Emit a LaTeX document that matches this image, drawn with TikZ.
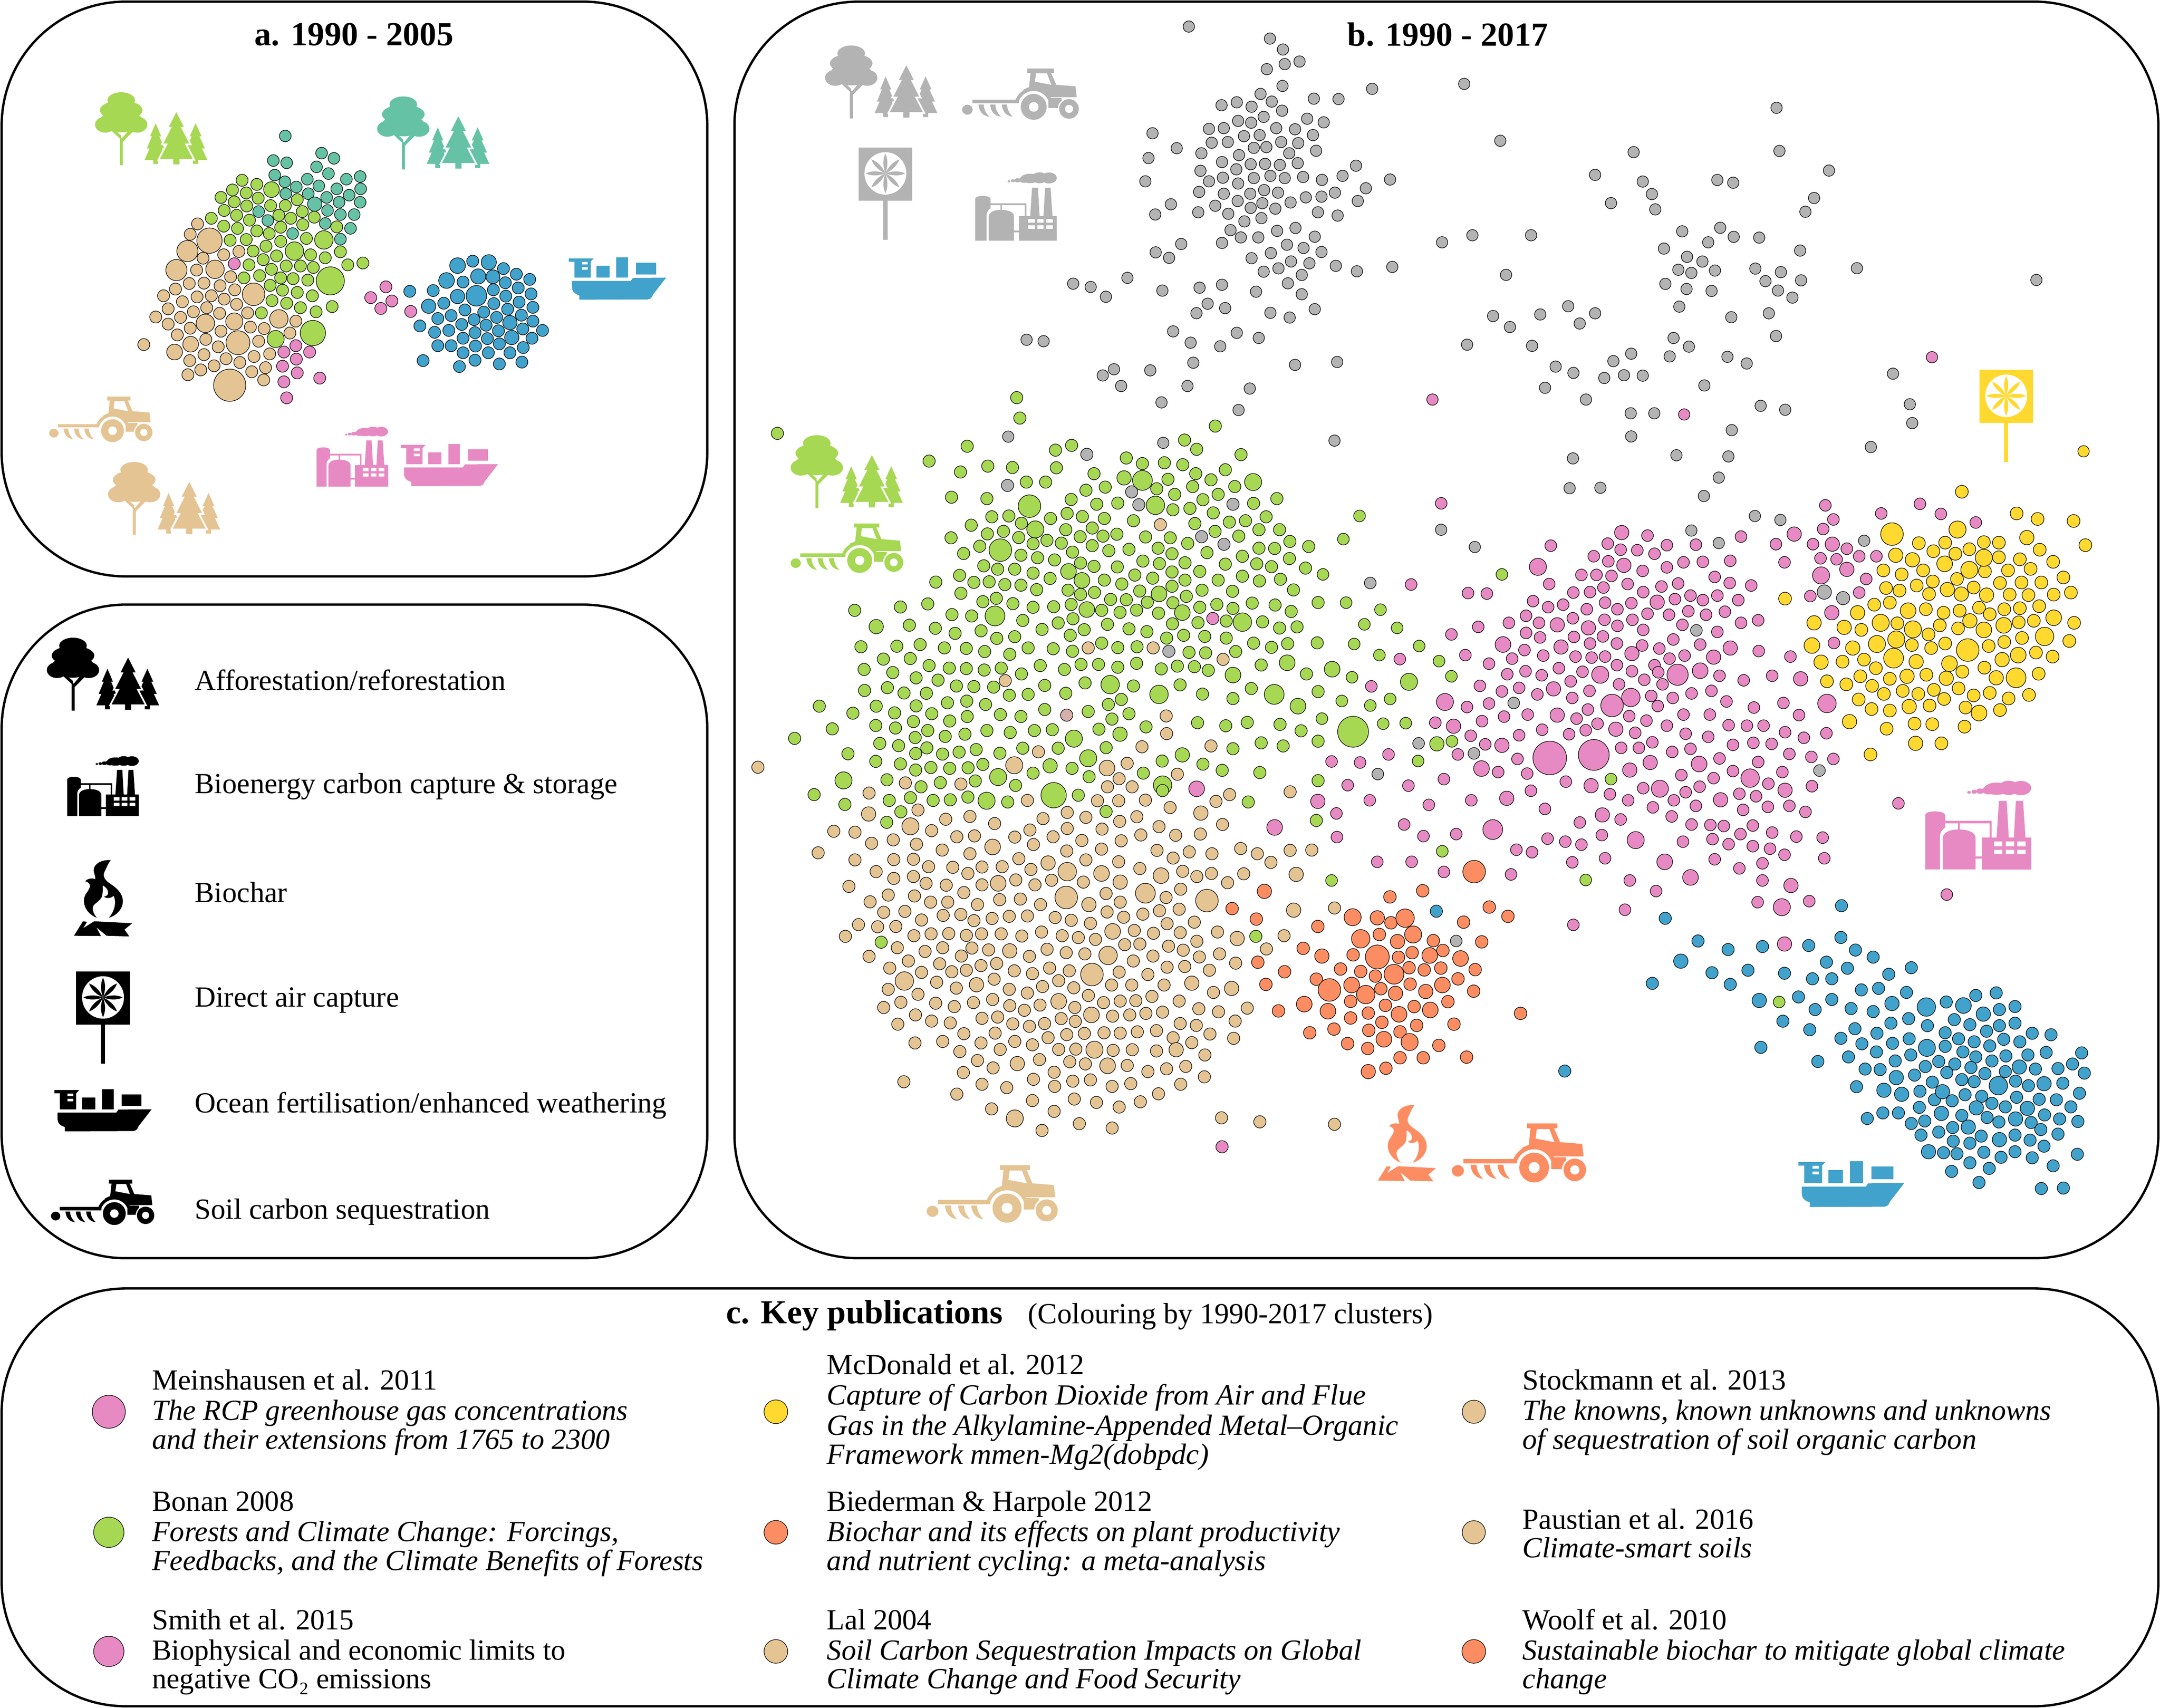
\documentclass[tikz,border=0pt]{standalone}
\usepackage{fontspec}
\setmainfont{Liberation Serif}
\definecolor{cgreen}{HTML}{A6D854}\definecolor{ctan}{HTML}{E5C494}\definecolor{cpink}{HTML}{E78AC3}
\definecolor{cblue}{HTML}{41A2CB}\definecolor{corange}{HTML}{FC8D62}\definecolor{cyellow}{HTML}{FFD92F}
\definecolor{cgrey}{HTML}{B3B3B3}\definecolor{cteal}{HTML}{66C2A5}\definecolor{cmix}{HTML}{D6B0AA}
\tikzset{
 dotst/.style={draw=black,line width=.2pt},
 panelbox/.style={draw=black,line width=.85pt,rounded corners=45,fill=white},
 titletxt/.style={anchor=center,inner sep=0,font=\fontsize{12.2}{14}\selectfont\bfseries},
 legtxt/.style={anchor=base west,inner sep=0,font=\fontsize{10.6}{12}\selectfont},
 pubtxt/.style={anchor=base west,inner sep=0,font=\fontsize{10.6}{12}\selectfont},
 pubit/.style={pubtxt,font=\fontsize{10.6}{12}\selectfont\itshape},
}
\newcommand\setzone[4]{\def\zxo{#1}\def\zsx{#2}\def\zyo{#3}\def\zsy{#4}}
\newcommand\dotrow[3]{\foreach \p/\q in {#3}{\path[dotst,fill=#1] ({\zxo+\p*\zsx},{\zyo+\q*\zsy}) circle ({#2+.25});}}
\newcommand\bigdots[2]{\foreach \p/\q/\r in {#2}{\path[dotst,fill=#1] ({\zxo+\p*\zsx},{\zyo+\q*\zsy}) circle ({\r+.2});}}
\newcommand\pineicon[5]{\path[#5] ({#1},{#2}) -- ({#1+.5*#4},{#2+.32*(#3-#2)}) -- ({#1+.33*#4},{#2+.32*(#3-#2)}) -- ({#1+.8*#4},{#2+.62*(#3-#2)}) -- ({#1+.55*#4},{#2+.62*(#3-#2)}) -- ({#1+#4},{#2+.9*(#3-#2)}) -- ({#1+.22*#4},{#2+.9*(#3-#2)}) -- ({#1+.22*#4},{#3}) -- ({#1-.22*#4},{#3}) -- ({#1-.22*#4},{#2+.9*(#3-#2)}) -- ({#1-#4},{#2+.9*(#3-#2)}) -- ({#1-.55*#4},{#2+.62*(#3-#2)}) -- ({#1-.8*#4},{#2+.62*(#3-#2)}) -- ({#1-.33*#4},{#2+.32*(#3-#2)}) -- ({#1-.5*#4},{#2+.32*(#3-#2)}) -- cycle;}
\newcommand\icontree[4]{\begin{scope}[shift={(#1,#2)},scale=#3]
 \fill[#4] (19,5.8) ellipse [x radius=10,y radius=5.8];
 \fill[#4] (19,13) ellipse [x radius=15.5,y radius=7];
 \fill[#4] (19,21) ellipse [x radius=15.5,y radius=8];
 \fill[#4] (7.5,23.5) ellipse [x radius=7.5,y radius=5.8];
 \fill[#4] (30.5,23.5) ellipse [x radius=7.5,y radius=5.8];
 \fill[#4] (18,32) -- (20.2,34) -- (20.2,53) -- (18,53) -- cycle;
 \fill[#4] (11,27) -- (14,27) -- (19,31.5) -- (18.5,34) -- cycle;
 \fill[#4] (25,27) -- (28,28) -- (20,36) -- (19,34) -- cycle;
 \pineicon{44}{22.5}{52}{8}{fill=#4}
 \pineicon{73}{22.5}{52}{8.5}{fill=#4}
 \pineicon{59}{13}{53}{13}{fill=#4,draw=white,line width=.6pt}
 \end{scope}}
\newcommand\icontractor[4]{\begin{scope}[shift={(#1,#2)},scale=#3]
 \fill[#4] (42,0) -- (59,0) -- (59,2.8) -- (42,2.8) -- cycle;
 \fill[#4] (44,2.5) -- (57,2.5) -- (60.5,10.5) -- (72.8,11.5) -- (73.6,18.5) -- (54,18.5) -- (38,17) -- (39.5,13.5) -- (43,12) -- cycle;
 \fill[white] (47.5,3.2) -- (54.5,3.2) -- (57.3,10.5) -- (46.8,8.5) -- cycle;
 \begin{scope}\clip (30,5) rectangle (62,21.5);
 \fill[#4] (46,24.7) circle (12.5);
 \end{scope}
 \fill[white] (46,24.7) circle (10.2);
 \fill[#4] (46,24.7) circle (8.3);
 \fill[white] (46,24.7) circle (3.1);
 \fill[#4] (55.5,19) -- (64,19) -- (64,25.5) -- (55.5,25.5) -- cycle;
 \fill[white] (68.7,26) circle (7.2);
 \fill[#4] (68.7,26) circle (6.3);
 \fill[white] (68.7,26) circle (2.6);
 \fill[#4] (3.4,26.5) ellipse [x radius=3.4,y radius=3.2];
 \fill[#4] (6.5,20) -- (36.5,20) -- (36.5,22.4) -- (6.5,22.4) -- cycle;
 \foreach \k in {10.5,18,25.5}{\fill[#4] (\k,23.2) -- (\k+3.4,23.2) .. controls (\k+3.4,26) and (\k+4.5,28.5) .. (\k+7,31) .. controls (\k+3,30.5) and (\k+.5,28) .. (\k,23.2) -- cycle;}
 \end{scope}}
\newcommand\iconfactory[4]{\begin{scope}[shift={(#1,#2)},scale=#3]
 \fill[#4] (0,43.6) -- (0,17) .. controls (0,14.5) and (9.5,14.5) .. (9.8,17) -- (9.8,23) .. controls (8.5,24) and (7.5,25) .. (7.3,27) -- (7.3,43.6) -- cycle;
 \fill[#4] (8.6,43.6) -- (8.6,28) .. controls (9,25) and (13,24) .. (16.5,24) .. controls (20,24) and (24.5,25) .. (24.7,28) -- (24.7,43.6) -- cycle;
 \fill[#4] (9.5,19.8) -- (32.6,19.8) -- (32.6,28.5) -- (31.6,28.5) -- (31.6,21) -- (9.5,21) -- cycle;
 \fill[#4] (16,20) -- (17,20) -- (17,25) -- (16,25) -- cycle;
 \fill[#4] (24.5,37.3) -- (28.5,37.3) -- (28.5,38.4) -- (24.5,38.4) -- cycle;
 \fill[#4] (28,28) -- (52,28) -- (52,43.6) -- (28,43.6) -- cycle;
 \fill[#4] (36.2,10) -- (40,10) -- (41,28) -- (35,28) -- cycle;
 \fill[#4] (44.5,10) -- (48,10) -- (49.2,28) -- (43.5,28) -- cycle;
 \foreach \a/\b/\c/\d in {35/4/6/3,41/3.6/5/3.5,47/3.7/5/3.5,31/4.8/3/2,27/5.2/2/1.3,24/5.5/1.3/1,21.5/5.8/.9/.7}{\fill[#4] (\a,\b) ellipse [x radius=\c,y radius=\d];}
 \foreach \a in {33.7,39.5,45.2}{\foreach \b in {30,33.9}{\fill[white] (\a,\b) -- (\a+4.1,\b) -- (\a+4.1,\b+2.3) -- (\a,\b+2.3) -- cycle;}}
 \end{scope}}
\newcommand\iconship[4]{\begin{scope}[shift={(#1,#2)},scale=#3]
 \fill[#4] (0,.6) -- (18,.6) -- (15.8,3) -- (15.8,14.6) -- (4,14.6) -- (4,3) -- (0,3) -- cycle;
 \fill[white] (9.5,3.2) -- (13.7,3.2) -- (13.7,5) -- (9.5,5) -- cycle (9.5,7) -- (13.7,7) -- (13.7,8.8) -- (9.5,8.8) -- cycle;
 \fill[#4] (20,6) -- (29.6,6) -- (29.6,14.6) -- (20,14.6) -- cycle;
 \fill[#4] (34.5,0) -- (43,0) -- (43,14.6) -- (34.5,14.6) -- cycle;
 \fill[#4] (48.8,3.7) -- (63.3,3.7) -- (63.3,12.2) -- (48.8,12.2) -- cycle;
 \fill[#4] (2.3,17) -- (45,17) -- (46.5,14.8) -- (70.6,14.6) -- (61,27) .. controls (60,29.5) and (59.5,30) .. (57,30.4) -- (7.6,30.6) -- (7.6,27.5) .. controls (3.5,26) and (2.3,24.5) .. (2.3,21) -- cycle;
 \end{scope}}
\newcommand\iconflame[4]{\begin{scope}[shift={(#1,#2)},scale=#3]
 \fill[#4] (27,.6) .. controls (20,0) and (13,4) .. (15,10) .. controls (15.5,12) and (16,14) .. (15.8,14.3) .. controls (13,13.5) and (10,14) .. (8.5,16) .. controls (11,16.5) and (12.5,18) .. (11.7,20.5) .. controls (10.5,24) and (7,26) .. (7.6,31) .. controls (8,37) and (13,41) .. (17,42.5) -- (25.5,42.5) .. controls (31,41) and (36,36) .. (35.8,30) .. controls (35.5,24) and (30,20) .. (27,18) .. controls (24,16) and (20,13) .. (23,8) .. controls (24,6) and (25,3) .. (27,.6) -- cycle;
 \fill[white] (17,42.5) .. controls (14,39) and (13,35) .. (15,33) .. controls (17,31) and (21,29) .. (21,25) .. controls (21.5,22) and (21,20) .. (21.3,19) .. controls (23,20) and (25.5,22) .. (25,25) .. controls (24.5,26.5) and (23,27) .. (22,27) .. controls (24,29) and (28,28) .. (29,26.5) .. controls (31,30) and (30.5,37) .. (25.5,42.5) -- cycle;
 \fill[#4] (.3,55.5) -- (6.8,45) -- (9.8,45.4) -- (7,50) -- (15,45) -- (42.6,46.4) -- (37,51) -- (40.5,56) -- (24,55.5) -- (16.6,49.4) -- (19.9,55.7) -- cycle;
 \end{scope}}
\newcommand\iconfan[4]{\begin{scope}[shift={(#1,#2)},scale=#3]
 \fill[#4] (0,0) -- (39,0) -- (39,38.7) -- (0,38.7) -- cycle;
 \fill[#4] (18,38) -- (21,38) -- (21,67) -- (18,67) -- cycle;
 \fill[white] (19.5,18.9) ellipse [x radius=15.2,y radius=15.4];
 \foreach \a in {0,45,90,135,180,225,270,315}{\fill[#4,rotate around={\a:(19.5,18.9)}] (5.2,18.9) .. controls (10,16.6) and (15,17.3) .. (19.5,18.9) .. controls (15,20.5) and (10,21.2) .. (5.2,18.9) -- cycle;}
 \end{scope}}
\begin{document}
\begin{tikzpicture}[x=.5pt,y=-.5pt]
\useasboundingbox (0,0) rectangle (1568.2,1239.8);
\fill[white] (0,0) rectangle (1568.2,1239.8);
\path[panelbox] (1.2,1.2) rectangle (513.5,418.5);
\path[panelbox] (1.2,439) rectangle (513.5,913.5);
\path[panelbox] (533.2,1.2) rectangle (1567,913.5);
\path[panelbox] (1.2,935.5) rectangle (1567,1238.8);
\node[titletxt] (ta) at (257,25) {a. 1990 - 2005};
\node[titletxt] (tb) at (1051,25) {b. 1990 - 2017};
% panel a icons
\icontree{69}{67}{1}{cgreen}
\icontree{273.8}{70}{1}{cteal}
\iconship{413}{187}{1}{cblue}
\icontractor{35.7}{288}{1}{ctan}
\icontree{78.4}{335.4}{1}{ctan}
\iconfactory{229.8}{309.7}{1}{cpink}
\iconship{291}{322.4}{1}{cpink}
% panel a dots
\setzone{0}{.33353}{0}{.27048}
\dotrow{cteal}{4}{621/365,700/411,727/425,595/431,624/437,689/448,715/466,598/470,620/488,669/481,754/481,784/474,645/502,694/499,733/507,785/507,622/520,671/520,711/530,760/524,738/543,784/543,563/568,713/565,741/576,771/576,583/592,708/600,763/613,637/627,741/642}
\bigdots{cteal}{685/548/5}
\dotrow{cgreen}{4.1}{527/484,559/495,506/510,536/518,481/530,562/532,510/542,537/553,589/552,621/552,647/536,488/565,515/578,658/568,607/578,633/586,684/583,460/586,543/591,487/607,517/613,611/610,659/603,733/609,559/620,586/627,501/645,536/643,611/648,667/640,741/676,579/661,551/674,676/684,708/692,573/697,602/687,542/711,757/711,790/706,591/723,623/714,654/714,682/718,531/746,565/740,611/746,638/748,670/752,588/766,615/779,647/785,680/794,592/807,624/814,654/826,723/823,688/837,569/840}
\bigdots{cgreen}{591/509/5.5,705/644/6.5,641/674/6.5,719/754/10,600/910/6,681/894/9}
\dotrow{ctan}{4.1}{430/601,414/629,442/693,487/684,520/675,428/725,502/743,412/761,444/760,382/776,479/767,511/778,356/794,429/797,460/794,397/810,488/803,515/817,366/829,450/826,421/837,478/841,539/840,339/851,393/852,644/862,366/870,414/881,545/878,575/882,481/889,631/894,386/899,448/911,563/916,313/925,475/931,444/952,587/950,553/957,492/963,413/968,522/973,466/982,578/987,437/993,548/998,409/1006,574/1020}
\bigdots{ctan}{456/646/9,408/674/7.5,384/725/7.5,468/723/6.5,552/790/8,607/856/6.5,447/868/6.5,510/863/6,518/920/8.5,415/924/5.5,380/945/5.5,500/1034/11.5}
\dotrow{cpink}{4.1}{510/708,644/928,618/945,674/945,645/964,615/983,647/1001,618/1025,696/1015,624/1068,840/770,807/799,853/808,829/828,894/836}
\dotrow{cblue}{4.1}{892/782,943/780,1029/701,1096/721,1124/736,1008/757,1153/750,1100/759,1128/773,1074/778,1156/789,1101/795,966/814,1075/815,1130/811,1160/825,1012/832,1105/830,953/855,982/847,1053/838,1135/846,1081/852,1032/858,1160/862,914/875,1005/871,1058/873,946/892,977/887,1138/883,1034/893,1085/888,1181/887,1008/908,1061/909,1158/908,953/928,982/928,1035/929,1087/923,1139/933,1008/947,1063/947,1110/947,921/968,1034/967,1136/972,1000/984,1087/977}
\bigdots{cblue}{996/713/5.5,1064/704/5.3,972/753/5.5,1041/742/5.3,1073/743/4.8,996/796/5,1037/794/7.3,933/822/5,1110/866/5,1114/906/5}
% panel b icons
\icontree{599}{33}{1}{cgrey}
\icontractor{698.5}{49.7}{1.13}{cgrey}
\iconfan{623.3}{107}{1}{cgrey}
\iconfactory{708}{125}{1.14}{cgrey}
\icontree{574}{316}{1}{cgreen}
\icontractor{574}{380}{1.09}{cgreen}
\iconfan{1437}{268.5}{1}{cyellow}
\iconfactory{1397.7}{566.7}{1.48}{cpink}
\iconship{1305.6}{843}{1.09}{cblue}
\icontractor{1054}{815.6}{1.3}{corange}
\iconflame{1000}{801.7}{1}{corange}
\icontractor{672.7}{845.8}{1.27}{ctan}
% grey dots
\setzone{532.5}{.3254}{0}{.2644}
\dotrow{cgrey}{3.9}{1016/73,1197/106,1226/136,1263/169,1230/176,1190/190,1225/236,1425/244,1176/258,1295/271,1350/272,1123/281,1201/279,1089/289,1156/293,1224/304,1183/321,1280/326,1126/332,1155/337,1317/336,1061/354,1094/352,1211/352,1253/355,935/366,1139/374,1174/371,1293/371,1067/392,1103/390,1222/390,1260/393,989/407,1161/406,1189/404,1300/414,1044/421,1240/421,1128/426,926/434,1090/445,1154/451,1186/450,1219/453,1259/448,1389/455,1042/469,1122/465,1359/483,1092/488,1161/489,1198/483,1230/489,1271/486,1465/493,1313/494,919/498,1061/498,1126/504,1411/517,1039/527,1184/522,1215/529,1094/532,1153/532,1342/529,1312/540,1277/542,1243/556,976/561,1125/552,1393/552,1180/558,1075/565,1154/571,1209/573,941/589,1037/583,1104/587,1304/583,1348/592,1178/599,1140/608,1213/634,1254/626,1109/632,1132/652,1171/652,1297/650,999/670,1090/667,1235/672,1272/681,942/693,1199/695,1312/692,972/708,1156/709,1244/718,1285/723,1216/737,1344/730,1470/733,1183/746,1391/745,1268/755,879/763,758/779,797/788,831/815,1040/790,1090/782,1237/778,957/798,1166/801,1268/808,1058/834,1097/846,1033/860,1198/859,1241/872,1297/849,981/910,1123/914,1172/928,1020/941,1086/951,654/933,692/937,1026/996,1253/1002,1347/994,849/1014,824/1031,930/1017,865/1060,1013/1060,1152/1067,955/1105,1127/1126,613/1199,1341/1210,959/1216,789/1247,611/1333,889/1352,904/1387,1114/1385}
\dotrow{cgreen}{4.2}{98/1190,632/1092,639/1148,1075/1170}
\setzone{1020.4}{.3494}{0}{.2847}
\dotrow{cgrey}{3.9}{122/214,771/275,197/359,777/385,474/388,880/435,394/446,648/459,681/466,493/463,512/495,849/505,427/518,519/534,831/540,575/590,654/581,682/604,735/606,76/618,139/600,261/600,629/618,537/634,820/639,585/655,617/667,567/688,594/696,643/690,727/685,780/694,938/684,1311/714,822/715,748/717,209/701,540/724,584/737,636/742,774/741,804/759,569/782,338/781,394/799,182/806,280/802,755/799,677/809,362/825,217/834,770/857,557/862,128/879,263/882,589/884,469/902,549/909,669/910,709/927,432/921,312/935,349/951,413/964,454/957,493/958,621/983,1013/953,290/989,1048/1031,1053/1079,375/1019,468/1054,517/1054,738/1035,789/1045,678/1097,469/1113,967/1140,348/1169,563/1161,671/1164,651/1218,341/1245,405/1244,620/1265,74/1351,144/1395,726/1316,779/1326,594/1353,651/1385,953/1379}
\dotrow{cpink}{3.9}{56/1019,579/1057,1094/911}
\dotrow{cyellow}{3.9}{1409/1151}
% green / part of tan
\setzone{542.1}{.32538}{318.9}{.20337}
\dotrow{cgreen}{4.2}{492/25,689/39,725/22,977/3,1004/36,1103/55,407/78,847/67,883/87,932/84,973/91,538/96,593/101,691/102,477/117,775/123,1068/109,1002/123,940/143,1036/145,624/153,667/153,757/182,800/171,915/177,995/169,1089/169,955/197,1052/197,457/207,536/212,724/215,781/232,828/228,1018/216,1131/229,1183/212,951/252,989/247,1041/263,715/265,678/283,749/276,798/283,547/277,585/274,863/291,1159/277,1077/296,1113/291,1000/301,613/300,501/307,1143/323,1189/323,712/323,771/317,1045/329,573/329,537/338,826/339,795/346,744/348,890/349,945/352,456/352,607/351,1098/346,670/361,639/373,702/371,984/372,1212/365,771/380,520/382,918/389,853/393,808/398,1143/389,1178/390,1254/383,484/408,727/403,612/414,949/409,1027/405,1106/418,649/423,687/431,884/435,1211/426,745/442,921/444,978/441,1138/445,1068/446,529/452,775/454,827/456,1171/455,1247/460,560/464,598/464,639/478,949/474,1011/472,475/486,866/485,677/497,798/503,906/496,1106/489,1191/500,978/503,1052/503,1144/506,507/511,541/509,422/510,576/519,612/521,837/517,949/525,717/539,647/537,1016/539,1220/538,776/547,745/554,877/542,1084/543,478/550,981/561,527/580,557/568,812/572,847/573,1128/585,1275/583,594/587,724/590,894/582,951/584,1011/600,1049/590,1179/592,404/588,343/599,241/611,639/600,685/598,1085/604,1215/615,458/626,502/631,792/611,833/618,870/610,919/621,728/641,616/647,1070/649,1151/652,695/656,363/664,950/659,1007/655,1189/674,1228/670,421/675,659/679,805/661,753/680,853/677,465/693,523/684,893/687,722/700,975/700,1022/704,598/705,558/711,937/710,1070/710,792/728,628/745,255/741,335/739,387/733,441/745,490/747,531/758,684/748,727/757,828/744,871/741,1131/728,1171/743,1207/730,1273/727,587/768,987/761,1024/763,1091/758,305/785,365/783,407/808,452/817,490/819,530/824,568/817,655/808,746/804,785/804,828/814,870/800,1148/806,961/810,999/812,925/820,1030/825,709/822,262/822,326/833,1249/838,613/838,378/852,427/860,755/870,863/881,468/881,507/883,551/885,665/879,967/877,263/897,314/887,351/906,401/907,586/914,628/911,712/907,1017/910,1126/890,1275/901,1085/926,162/953,289/953,378/952,448/941,491/935,533/947,836/929,807/947,237/978,330/977,413/980,566/983,612/990,665/965,762/972,492/990,453/1006,372/1008,853/980,815/999,288/1022,191/1034,332/1031,1006/1012,891/1027,1069/1023,1117/1011,1190/1018,536/1040,642/1040,682/1037,404/1040,443/1061,487/1053,588/1047,786/1035,1237/1041,376/1065,107/1068,297/1086,339/1094,1148/1084,1197/1095,1275/1078,402/1102,802/1101,695/1103,616/1103,512/1108,474/1117,437/1124,377/1122,226/1123,565/1121,1085/1105,927/1149,288/1150,343/1159,527/1161,411/1172,453/1175,494/1173,726/1175,377/1181,1018/1160,1061/1182,885/1192,639/1192,764/1205,1145/1190,313/1216,510/1220,432/1226,600/1236,1275/1219,389/1241}
\bigdots{cgreen}{842/138/5,883/147/7,1130/153/6,631/239/8,912/236/6.5,644/322/6,566/396/8,718/472/5.5,748/504/5.5,920/552/5.5,759/608/5.5,554/631/7,972/619/5.5,1106/653/6.5,289/669/5,1206/798/5.5,1085/842/5.5,811/876/6.5,920/911/6.5,1177/911/7,1230/953/5.5,833/1053/5,730/1069/6,972/1127/5,762/1139/6,677/1166/5,561/1206/6,216/1218/6,928/1235/6.5}
\dotrow{ctan}{4.2}{923/305,762/745,907/745,1063/786,577/862,936/988,937/1051,882/1098,1036/1095,651/1116,25/1171,849/1157,961/1196,831/1212,860/1241,354/1227,478/1231,805/1241}
\bigdots{ctan}{804/1174/5.5,597/1164/6}
\dotrow{cmix}{4.2}{714/985}
\dotrow{cpink}{4.2}{1040/640}
\bigdots{cpink}{1004/1248/5.5,1178/1386/5.5}
\dotrow{cgrey}{4.2}{759/54,582/165,859/188,875/234,1085/232,1015/348,1065/375,942/757}
% tan + orange
\setzone{542}{.36607}{574}{.22372}
\dotrow{ctan}{4.2}{1078/4,243/8,557/32,696/33,738/33,791/31,931/35,958/13,340/63,443/84,636/71,673/87,840/55,588/91,395/93,492/107,774/85,740/100,944/110,173/132,215/135,367/130,562/128,636/123,705/125,818/117,417/150,452/147,532/151,608/150,851/145,900/141,291/160,782/144,665/162,743/163,248/171,337/174,569/175,704/190,388/193,142/202,443/205,635/196,814/194,878/199,923/205,980/188,1013/205,1078/194,1121/193,540/221,846/219,215/225,292/224,331/223,673/225,738/231,1040/233,361/247,409/249,467/248,507/247,780/253,257/263,439/269,564/256,865/262,922/269,986/270,292/285,331/279,893/279,534/290,605/291,668/297,356/301,396/307,467/306,572/306,954/299,203/311,861/320,431/331,713/334,281/339,333/342,832/347,245/361,365/362,399/362,502/354,543/352,741/362,458/370,583/370,272/395,314/392,390/405,425/402,521/408,557/407,715/394,786/401,819/390,858/385,1166/381,347/420,451/422,487/415,612/412,644/421,748/411,682/431,834/432,888/427,222/435,260/442,296/441,769/454,585/459,807/463,860/461,934/459,332/471,366/465,401/464,436/470,466/465,505/465,546/472,626/471,658/477,692/483,196/473,1066/471,893/489,750/500,780/498,837/505,299/510,354/522,389/510,447/511,480/517,596/515,634/526,671/530,866/518,938/530,1031/514,243/538,561/538,426/537,806/537,898/540,321/553,383/562,767/553,465/568,496/561,601/576,970/560,284/576,436/583,407/588,531/585,567/594,640/585,739/589,834/573,869/571,918/583,347/590,796/597,377/622,491/612,619/617,724/631,764/631,828/631,416/641,521/645,587/636,281/645,557/657,649/640,926/655,340/661,678/665,804/668,488/678,858/683,450/688,741/683,772/682,708/688,375/690,306/687,522/698,582/696,272/704,412/701,651/704,993/706,897/708,936/718,551/713,825/719,792/723,467/739,498/735,726/732,760/728,624/740,652/749,335/728,969/748,367/748,404/754,528/757,591/756,561/765,300/758,860/756,892/762,493/787,635/792,670/788,709/786,741/787,775/783,813/779,431/789,919/790,598/802,846/802,966/804,334/819,389/814,465/819,532/814,567/825,883/818,423/847,503/840,619/840,653/839,727/843,765/841,813/845,909/858,458/876,581/873,641/880,672/887,755/892,489/900,796/912,833/903,871/895,430/915,610/914,569/937,647/943,682/939,908/929,467/953,516/964,611/960,725/960,762/951,861/953,312/945,417/985,817/984,567/1006,650/1001,694/1012,781/1010,739/1027,486/1033,610/1041,660/1081,586/1103,725/1095,942/1062,1018/1075,1166/1083}
\bigdots{ctan}{242/76/5,901/73/5,325/116/6,488/183/5.5,598/235/5,636/263/6.5,704/269/5.5,822/276/5.5,1090/272/5,741/297/5,499/301/5.5,634/347/8,791/333/7,913/357/8,679/370/5,1085/388/5,726/457/5.5,973/480/5,522/520/5,717/535/6.5,685/597/8,313/618/6.5,883/625/5,456/630/5,962/642/5,619/684/5.5,684/728/5.5,690/841/6,852/841/5,537/886/5,716/893/5.5,532/1064/6}
\dotrow{cgreen}{4.2}{134/13,195/45,283/32,325/23,370/32,404/30,439/21,518/37,658/15,825/0,306/69,713/68,278/103,995/37,1130/97,1010/473,267/492}
\bigdots{cgreen}{476/33/6,609/15/9}
\dotrow{cpink}{4.2}{943/1156}
\bigdots{cpink}{1133/35/5}
\dotrow{corange}{4.3}{1341/325,1276/345,963/383,1011/417,1133/441,1473/378,1510/408,1278/429,1422/427,1255/467,1362/487,1458/491,1104/512,1203/533,1293/541,1320/526,1381/519,1014/557,1178/579,1218/587,1247/602,1314/575,1344/582,1377/576,1445/581,1067/588,1130/612,1411/611,1030/629,1316/628,1258/643,1442/651,1198/684,1391/685,1055/715,1267/697,1324/701,1535/723,1233/722,1198/738,1260/752,1329/762,1403/758,1117/786,1165/774,1234/778,1296/783,1192/821,1373/827,1232/837,1296/867,1342/867,1428/865,1268/901}
\bigdots{corange}{1027/327/5,1202/411/6,1251/413/5,1306/414/6.5,1322/467/6,1218/481/6.5,1291/490/5,1141/537/5,1251/540/8.5,1355/535/5.5,1416/545/5.5,1284/596/7,1200/631/5.5,1380/631/5.5,1156/647/8,1228/662/6.5,1287/658/5,1347/652/5,1106/693/5.5,1356/712/5.5,1153/716/5.5,1294/726/5.5,1264/807/5.5,1315/816/6,1233/912/5,1443/263/8}
% right side
\setzone{956.6}{.39007}{350.8}{.36607}
\dotrow{cgreen}{4}{78/65,48/111,10/181,343/181,53/237,117/251,87/280,148/287,68/319,189/323,115/341,226/353,64/385,249/383,45/432,98/441,135/428,8/467,122/477,164/476,250/512,187/551,232/730,26/788,546/587,499/787,859/1029}
\bigdots{cgreen}{27/369/5.5,170/394/6,66/493/11,222/517/5}
\dotrow{cgrey}{4}{98/198,188/516,291/536,112/577,365/436,705/292,258/908,934/570}
\bigdots{cgrey}{943/216/5,978/228/4.6}
\dotrow{cpink}{4}{230/40,945/44,1121/41,1160/61,1049/60,1225/78,960/72,941/91,614/104,788/106,434/124,540/120,704/122,650/123,853/121,922/121,985/130,564/132,595/133,627/140,514/145,541/155,681/157,717/156,768/154,936/149,966/151,1008/145,1040/145,869/157,650/167,605/174,491/182,519/182,547/184,577/200,739/186,671/199,767/198,640/205,807/203,431/200,174/201,1021/190,476/217,507/216,280/218,315/219,532/207,606/216,694/223,665/230,717/232,744/223,1008/217,917/224,401/234,429/246,457/241,501/250,535/237,584/238,783/232,690/254,758/255,388/263,558/250,614/259,654/261,723/261,475/268,356/277,412/277,534/271,586/271,679/281,788/277,820/272,299/285,558/283,606/291,388/297,249/300,744/295,477/305,531/304,662/310,557/318,414/306,507/318,604/322,712/320,821/333,961/317,385/331,636/328,420/342,480/344,510/346,535/344,655/348,683/342,880/344,275/341,153/349,362/348,319/358,557/361,449/367,627/361,387/373,417/381,493/374,353/379,585/373,634/375,748/382,846/382,793/391,302/402,375/406,100/403,343/413,409/419,471/393,561/399,608/390,642/399,506/412,696/417,733/412,474/426,661/426,621/422,761/433,812/445,867/436,319/437,278/444,633/442,503/449,896/460,391/459,347/463,580/462,681/459,730/459,219/475,306/472,482/467,612/471,521/477,650/481,765/480,799/481,830/481,870/494,947/496,375/500,418/489,499/490,468/498,591/495,685/497,285/501,727/503,905/505,312/518,623/514,811/515,845/517,565/525,598/525,694/527,773/519,660/533,878/537,26/552,79/554,132/538,261/538,372/547,748/546,919/543,960/547,820/553,336/573,390/576,773/571,865/573,677/579,737/585,235/587,462/592,56/599,169/600,397/610,606/605,711/602,839/596,920/601,544/617,685/613,785/616,816/621,97/629,207/638,286/629,578/629,663/629,624/643,704/640,838/642,878/640,423/646,792/648,908/652,35/655,659/661,564/667,488/673,161/677,696/677,731/678,756/680,810/679,36/702,197/700,258/696,846/693,428/705,461/711,491/717,529/698,680/711,735/706,787/696,891/701,940/703,765/716,810/720,842/725,370/727,399/732,739/746,869/737,943/744,111/751,175/751,474/752,535/744,828/754,785/764,235/771,360/776,581/788,828/788,630/809,819/831,915/829,572/846,476/876,1081/635,1171/816}
\bigdots{cpink}{887/101/5,566/98/5,958/121/5,410/166/6,570/163/5,985/171/5,937/183/6,632/236/5,957/257/5,446/281/5,504/287/5,345/320/5.5,453/325/5,768/327/5,585/338/5,737/345/5,526/380/6,670/380/7.5,712/372/5.5,899/388/5,439/408/5,583/425/6.5,948/437/6.5,237/434/6,548/441/8,446/460/5,253/482/5,555/488/5,343/520/5,432/545/12,514/539/11,619/554/5,710/557/5.5,305/566/5.5,581/569/5,805/585/6.5,509/600/5,637/606/6,870/609/5,352/625/5,750/628/5,530/658/5,326/687/7,592/708/6,646/751/5.5,694/782/5.5,881/798/5,864/841/6,869/914/5}
\dotrow{cyellow}{4.4}{1199/17,1301/60,1340/71,1407/75,1429/123,1119/119,1168/118,1240/117,1268/118,1146/135,1213/131,1344/132,1187/140,1268/147,1307/151,1369/156,1053/173,1127/173,1242/175,1285/173,1327/170,1087/181,1145/195,1190/190,1270/198,1310/197,1347/197,1388/187,1058/208,1083/213,1115/203,1221/207,1138/220,1288/221,1323/222,1370/221,1402/217,870/229,1036/241,1065/237,1132/250,1165/257,1195/253,1231/247,1278/250,1307/248,1343/244,1251/260,1079/278,1305/276,1333/273,1408/277,1012/291,1158/282,1192/288,1137/300,1311/307,1399/313,1106/321,1142/327,1168/318,1249/323,1278/315,1337/336,1017/350,1368/344,977/354,1039/367,1241/366,1200/374,1010/383,1065/388,1133/380,1342/378,948/393,984/399,1032/402,1089/412,1118/418,1147/410,1193/407,1221/421,1251/416,1007/429,1054/418,1166/428,1286/427,1324/420,1031/448,1065/451,1139/441,1206/445,1270/450,1111/477,1144/478,1059/487,1204/483,1161/516,1029/538}
\bigdots{cyellow}{1069/101/8,1191/92/6,1320/108/5,1076/143/5,1107/152/5,1240/148/6,1167/160/5.5,1213/172/6,1172/211/5,1198/220/5,1245/222/5,1099/253/5.5,1005/257/5,1370/267/5.5,924/277/5,1048/277/6,1214/273/5,980/286/5,1108/290/6,1240/291/5.5,1277/282/5.5,1077/310/6,1353/304/6.5,920/322/5.5,996/327/5,1041/319/6,1210/331/8,1304/341/5.5,1072/347/7,1114/354/5,937/355/5,1176/358/5.5,1274/350/5,1097/383/5,1170/387/5,1263/386/5,1300/386/7,1101/443/5,1231/456/5.5,990/473/5,1113/516/5}
\dotrow{cblue}{4.2}{975/838,647/863,221/849,460/1166,708/908,974/901,764/925,828/919,914/917,1001/926,1034/940,947/950,986/962,1105/961,734/971,801/966,869/972,1063/974,921/983,957/983,623/992,768/994,1012/1005,1044/1002,1096/1010,1263/1011,1225/1016,895/1019,957/1024,1170/1029,1298/1038,1269/1044,926/1044,993/1042,1034/1048,866/1067,1100/1062,1185/1064,1067/1071,1135/1076,1214/1074,1269/1076,1298/1071,916/1084,1000/1082,1041/1091,1168/1090,1245/1087,1330/1091,1365/1094,974/1101,1101/1102,1193/1102,1277/1103,1013/1112,1070/1111,1222/1108,1307/1108,1251/1116,825/1119,1168/1117,1040/1128,1201/1128,1356/1129,1422/1130,988/1138,1104/1134,1225/1138,1281/1136,1322/1134,1075/1146,1156/1147,1255/1146,931/1147,1131/1157,1186/1152,1405/1152,1019/1162,1047/1163,1216/1159,1336/1162,1378/1161,1427/1170,1171/1169,1111/1174,1242/1171,1280/1167,1144/1188,1199/1183,1222/1187,1299/1186,1003/1197,1323/1195,1387/1190,1121/1206,1205/1213,1236/1216,1301/1218,1418/1210,1148/1223,1181/1225,1255/1230,1343/1222,1375/1223,1120/1238,1280/1237,1402/1237,1052/1249,1081/1249,1199/1254,1353/1253,1023/1260,1246/1258,1105/1270,1130/1265,1268/1267,1328/1268,1381/1261,1415/1266,1182/1278,1346/1282,1156/1287,1123/1293,1235/1295,1298/1293,1378/1291,1183/1305,1326/1303,1214/1309,1352/1315,1165/1328,1190/1330,1240/1327,1298/1326,1414/1331,1272/1337,1330/1338,1214/1348,1369/1354,1250/1359,1180/1365,1231/1387,1347/1399,1388/1398}
\bigdots{cblue}{676/948/5,822/1026/5,1069/1032/5,1202/1036/5.5,1133/1039/6.5,1239/1053/5,1134/1120/6,1306/1158/5,1077/1179/5,1267/1195/6.5,1352/1191/5,1054/1204/5,1163/1207/5,1087/1212/5,1226/1239/5,1321/1240/5,1161/1250/5,1299/1261/5,1211/1277/5,1269/1302/5,1137/1326/5}
% legend
\icontree{34}{463}{1}{black}
\iconfactory{48.8}{548.9}{1}{black}
\iconflame{53.4}{623.9}{1}{black}
\iconfan{55.3}{705.3}{1}{black}
\iconship{39.5}{790.8}{1}{black}
\icontractor{37}{856.4}{1}{black}
\node[legtxt] (l1) at (141,501) {Afforestation/reforestation};
\node[legtxt] (l2) at (141,576) {Bioenergy carbon capture \& storage};
\node[legtxt] (l3) at (141,655) {Biochar};
\node[legtxt] (l4) at (141,731) {Direct air capture};
\node[legtxt] (l5) at (141,808) {Ocean fertilisation/enhanced weathering};
\node[legtxt] (l6) at (141,885) {Soil carbon sequestration};
% panel c
\node[anchor=base west,inner sep=0,font=\fontsize{12.2}{14}\selectfont\bfseries] (tc) at (527,961) {c. Key publications};
\node[pubtxt] (tc2) at (746,961) {(Colouring by 1990-2017 clusters)};
\path[dotst,fill=cpink] (79,1025) circle (12);
\path[dotst,fill=cgreen] (79,1112.5) circle (11);
\path[dotst,fill=cpink] (79,1199) circle (11);
\path[dotst,fill=cyellow] (563.3,1025) circle (8.6);
\path[dotst,fill=corange] (563.3,1112.5) circle (8.6);
\path[dotst,fill=ctan] (563.3,1199) circle (8.6);
\path[dotst,fill=ctan] (1070,1025) circle (8.4);
\path[dotst,fill=ctan] (1070,1112.5) circle (8.4);
\path[dotst,fill=corange] (1070,1199) circle (8.6);
\node[pubtxt] (p1) at (110,1009) {Meinshausen et al. 2011};
\node[pubit] (p2) at (110,1031) {The RCP greenhouse gas concentrations};
\node[pubit] (p3) at (110,1052) {and their extensions from 1765 to 2300};
\node[pubtxt] (p4) at (110,1097) {Bonan 2008};
\node[pubit] (p5) at (110,1119) {Forests and Climate Change: Forcings,};
\node[pubit] (p6) at (110,1140) {Feedbacks, and the Climate Benefits of Forests};
\node[pubtxt] (p7) at (110,1183) {Smith et al. 2015};
\node[pubtxt] (p8) at (110,1205) {Biophysical and economic limits to};
\node[pubtxt] (p9) at (110,1226) {negative CO₂ emissions};
\node[pubtxt] (q1) at (600,998) {McDonald et al. 2012};
\node[pubit] (q2) at (600,1020) {Capture of Carbon Dioxide from Air and Flue};
\node[pubit] (q3) at (600,1042) {Gas in the Alkylamine-Appended Metal–Organic};
\node[pubit] (q4) at (600,1063) {Framework mmen-Mg2(dobpdc)};
\node[pubtxt] (q5) at (600,1097) {Biederman \& Harpole 2012};
\node[pubit] (q6) at (600,1119) {Biochar and its effects on plant productivity};
\node[pubit] (q7) at (600,1140) {and nutrient cycling: a meta-analysis};
\node[pubtxt] (q8) at (600,1183) {Lal 2004};
\node[pubit] (q9) at (600,1205) {Soil Carbon Sequestration Impacts on Global};
\node[pubit] (q10) at (600,1226) {Climate Change and Food Security};
\node[pubtxt] (r1) at (1105,1009) {Stockmann et al. 2013};
\node[pubit] (r2) at (1105,1031) {The knowns, known unknowns and unknowns};
\node[pubit] (r3) at (1105,1052) {of sequestration of soil organic carbon};
\node[pubtxt] (r4) at (1105,1110) {Paustian et al. 2016};
\node[pubit] (r5) at (1105,1131) {Climate-smart soils};
\node[pubtxt] (r6) at (1105,1183) {Woolf et al. 2010};
\node[pubit] (r7) at (1105,1205) {Sustainable biochar to mitigate global climate};
\node[pubit] (r8) at (1105,1226) {change};
\end{tikzpicture}
\end{document}
